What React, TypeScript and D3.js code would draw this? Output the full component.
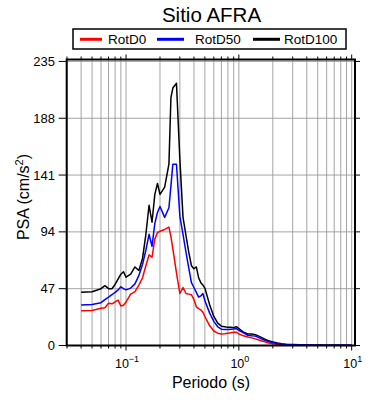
import React from "react";
import * as d3 from "d3";

const periods = [0.04,0.05,0.06,0.065,0.07,0.075,0.08,0.085,0.09,0.095,0.1,0.11,0.12,0.13,0.14,0.15,0.16,0.17,0.18,0.19,0.2,0.22,0.24,0.25,0.26,0.28,0.3,0.32,0.34,0.36,0.38,0.4,0.42,0.44,0.46,0.48,0.5,0.55,0.6,0.65,0.7,0.75,0.8,0.85,0.9,0.95,1.0,1.1,1.2,1.3,1.4,1.5,1.6,1.7,1.8,1.9,2.0,2.2,2.4,2.6,2.8,3.0,3.5,4,5,6,7,8,9,10];

const rotD0 = [28.8,29,30.8,31.3,34.9,34.5,36,37.5,32.7,33.3,36,42.5,44.5,50,56,66,75,73,88,93.5,94.5,96,98,90,80,60,43,48,43,42.5,42,38,32,30.5,29.5,27.5,24,16.5,12,10.2,9.6,9.8,10.2,10.5,10.9,11,9.5,8,7,6.3,5.5,4.5,3.7,3,2.3,1.8,1.4,0.9,0.6,0.5,0.4,0.35,0.3,0.25,0.2,0.17,0.14,0.12,0.1,0.09];

const rotD50 = [33.5,34,35.4,38,40,42,44,46,48.5,47,46,47.5,51,58,67,79,92,82,101,110,115,106,114,132,150,150,107,92,77,64,52,48,44,40,41,43,37,27,20,15.5,13.5,13.2,13.3,13.5,13.7,14,12.5,10.5,8.5,8,7.8,6.5,5.3,4.3,3.4,2.8,2.3,1.6,1.1,0.9,0.7,0.6,0.5,0.4,0.3,0.25,0.2,0.16,0.14,0.12];

const rotD100 = [44,44.5,47,49.5,47,47,50.5,55,59,61,56.5,59,65,62,72,92,116,102,125,134,125,131,150,205,213,217,154,106,91,77,66,63.5,65,56,52,50,47.5,34,24,18.5,16,15.5,15,15,14.7,15.6,14,11,9.5,9.5,9,7.8,6.5,5.3,4.2,3.5,3,2,1.4,1.1,0.9,0.8,0.6,0.5,0.35,0.28,0.22,0.18,0.15,0.13];

const seriesNames = ["RotD0", "RotD50", "RotD100"];
const seriesColors = ["#ff0000", "#0000ff", "#000000"];
const yTicks = [0, 47, 94, 141, 188, 235];
const xDecades = [-1, 0, 1];
const title = "Sitio AFRA";
const xLabel = "Periodo (s)";

const FONT = "'Liberation Sans', Arial, Helvetica, sans-serif";

export default function App() {
  const left = 66.7, right = 355, top = 59.5, bottom = 345.5;
  const x = d3.scaleLog().domain([0.0298, 10.7]).range([left, right]);
  const y = d3.scaleLinear().domain([0, 236.6]).range([bottom, top]);

  const minorTicks: number[] = [];
  for (let e = -2; e <= 1; e++) {
    for (let m = 1; m <= 9; m++) {
      const v = m * Math.pow(10, e);
      if (v >= 0.0298 && v <= 10.7) minorTicks.push(v);
    }
  }

  const line = d3
    .line<number>()
    .x((_, i) => x(periods[i]))
    .y((d) => y(d));

  const data = [rotD0, rotD50, rotD100];
  const drawOrder = [0, 2, 1];

  return (
    <svg
      width={390}
      height={400}
      style={{ position: "absolute", left: 0, top: 0 }}
      fontFamily={FONT}
    >
      <rect x={0} y={0} width={390} height={400} fill="#fff" />
      {/* grid */}
      {minorTicks.map((v, i) => (
        <line key={"gx" + i} x1={x(v)} x2={x(v)} y1={top} y2={bottom} stroke="#9a9a9a" strokeWidth={0.9} />
      ))}
      {yTicks.map((v, i) => (
        <line key={"gy" + i} x1={left} x2={right} y1={y(v)} y2={y(v)} stroke="#9a9a9a" strokeWidth={0.9} />
      ))}
      {/* ticks bottom & top */}
      {minorTicks.map((v, i) => {
        const major = Math.abs(Math.log10(v) - Math.round(Math.log10(v))) < 1e-9;
        const len = major ? 5 : 3;
        return (
          <g key={"t" + i}>
            <line x1={x(v)} x2={x(v)} y1={bottom} y2={bottom + len} stroke="#000" strokeWidth={1} />
            <line x1={x(v)} x2={x(v)} y1={top} y2={top - len} stroke="#000" strokeWidth={1} />
          </g>
        );
      })}
      {/* y ticks */}
      {yTicks.map((v, i) => (
        <g key={"yt" + i}>
          <line x1={left - 8} x2={left} y1={y(v)} y2={y(v)} stroke="#000" strokeWidth={1} />
          <line x1={right} x2={right + 5} y1={y(v)} y2={y(v)} stroke="#000" strokeWidth={1} />
          <text x={55} y={y(v)} dy="0.35em" textAnchor="end" fontSize={13}>
            {v}
          </text>
        </g>
      ))}
      {/* x tick labels */}
      {xDecades.map((e) => (
        <text key={"xl" + e} x={x(Math.pow(10, e)) + 1} y={367.5} textAnchor="middle" fontSize={12.5}>
          10
          <tspan dy={-5.5} fontSize={9}>
            {e < 0 ? "\u2212" + Math.abs(e) : String(e)}
          </tspan>
        </text>
      ))}
      {/* series */}
      {drawOrder.map((k) => (
        <path key={"s" + k} d={line(data[k]) || ""} fill="none" stroke={seriesColors[k]} strokeWidth={1.5} strokeLinejoin="round" />
      ))}
      {/* frame */}
      <rect x={left} y={top} width={right - left} height={bottom - top} fill="none" stroke="#000" strokeWidth={2} />
      {/* axis labels */}
      <text x={211} y={388} textAnchor="middle" fontSize={16}>
        {xLabel}
      </text>
      <text transform={`translate(28.5,${197}) rotate(-90)`} textAnchor="middle" fontSize={16}>
        PSA (cm/s<tspan dy={-6} fontSize={11}>2</tspan>
        <tspan dy={6}>)</tspan>
      </text>
      {/* title */}
      <text x={211.5} y={22} textAnchor="middle" fontSize={20.5}>
        {title}
      </text>
      {/* legend */}
      <rect x={73} y={29} width={273} height={20} fill="#fff" stroke="#000" strokeWidth={1.5} />
      {seriesNames.map((n, i) => {
        const lx = [80, 157, 253][i];
        const lw = [22, 27, 27][i];
        const tx = [108, 195, 284][i];
        return (
          <g key={"lg" + i}>
            <line x1={lx} x2={lx + lw} y1={39.3} y2={39.3} stroke={seriesColors[i]} strokeWidth={3} />
            <text x={tx} y={44.3} fontSize={13.5}>
              {n}
            </text>
          </g>
        );
      })}
    </svg>
  );
}
